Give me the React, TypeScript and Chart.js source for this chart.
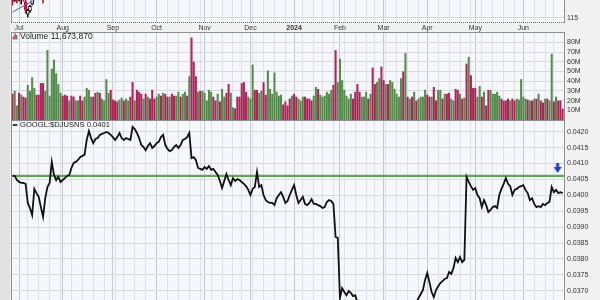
import React, { useEffect, useRef } from 'react';
import { Chart, registerables } from 'chart.js';

Chart.register(...registerables);

// ---------------- data ----------------
const MONTH_LABELS = ['Jul', 'Aug', 'Sep', 'Oct', 'Nov', 'Dec', '2024', 'Feb', 'Mar', 'Apr', 'May', 'Jun'];
// trading-day index (0 = 28 Jun 2023) of the first session of each month
const MONTH_START_IDX = [3, 23, 46, 66, 88, 109, 129, 150, 170, 190, 212, 234];
// trading-day index of the first session of each week
const WEEK_START_IDX = [3, 7, 12, 17, 22, 27, 32, 37, 42, 47, 51, 56, 61, 66, 71, 76, 81, 86, 91, 96, 101, 105,
  110, 115, 120, 125, 129, 133, 138, 142, 147, 152, 157, 162, 166, 171, 176, 181, 186, 190, 195, 200, 205, 210,
  215, 220, 225, 230, 234, 239, 244, 248];

// daily volume, millions of shares
const VOLUME_M = [
  27, 30, 15, 28, 26, 24, 23, 36, 30, 44,
  33, 26, 26, 38, 38, 30, 72, 25, 53, 62,
  48, 37, 28, 25, 26, 25, 20, 25, 24, 20,
  20, 25, 20, 24, 33, 31, 24, 24, 28, 29,
  28, 22, 20, 42, 28, 31, 21, 20, 19, 21,
  23, 20, 22, 20, 24, 39, 20, 31, 29, 27,
  22, 27, 24, 22, 31, 22, 24, 27, 25, 28,
  27, 24, 24, 27, 25, 25, 29, 24, 27, 29,
  25, 45, 85, 60, 45, 29, 30, 30, 28, 20,
  31, 29, 24, 20, 27, 19, 32, 24, 28, 37,
  28, 13, 12, 24, 24, 38, 39, 29, 24, 22,
  57, 31, 31, 28, 30, 39, 26, 51, 32, 27,
  49, 29, 25, 26, 16, 19, 15, 22, 25, 27,
  24, 22, 20, 24, 24, 22, 22, 20, 25, 34,
  32, 26, 24, 25, 29, 27, 31, 36, 72, 39,
  63, 41, 31, 25, 22, 27, 22, 29, 37, 29,
  24, 24, 29, 22, 27, 54, 37, 39, 43, 55,
  41, 37, 37, 41, 39, 32, 27, 24, 43, 50,
  69, 24, 22, 24, 29, 20, 22, 24, 24, 31,
  26, 24, 24, 34, 20, 31, 31, 22, 27, 27,
  28, 22, 20, 32, 31, 27, 22, 23, 58, 65,
  46, 33, 33, 24, 35, 24, 29, 15, 31, 31,
  27, 27, 29, 25, 22, 20, 20, 22, 20, 22,
  20, 22, 21, 42, 24, 22, 21, 20, 20, 22,
  22, 27, 20, 18, 22, 22, 20, 68, 19, 24,
  20, 20, 11.67,
];
// 1 = up day (green), 0 = down day (red)
const VOLUME_UP = [
  0, 1, 1, 0, 1, 0, 0, 1, 1, 1,
  1, 0, 0, 0, 0, 1, 1, 1, 1, 1,
  1, 1, 1, 0, 0, 0, 1, 0, 0, 1,
  1, 0, 0, 1, 1, 1, 1, 0, 0, 1,
  0, 1, 1, 1, 1, 0, 0, 0, 0, 1,
  1, 0, 1, 1, 0, 0, 1, 0, 0, 0,
  1, 0, 1, 0, 0, 0, 1, 1, 0, 1,
  0, 0, 1, 0, 0, 1, 1, 0, 1, 1,
  0, 1, 0, 0, 0, 1, 0, 1, 1, 1,
  1, 1, 0, 0, 1, 0, 1, 1, 0, 0,
  1, 1, 0, 0, 0, 0, 0, 0, 1, 1,
  1, 0, 0, 1, 1, 0, 0, 1, 1, 1,
  1, 1, 1, 1, 0, 0, 0, 0, 1, 0,
  0, 1, 1, 1, 0, 0, 0, 0, 1, 1,
  0, 1, 1, 1, 1, 1, 1, 0, 0, 1,
  1, 1, 1, 1, 1, 1, 0, 0, 0, 0,
  1, 1, 1, 0, 1, 0, 0, 1, 1, 0,
  0, 1, 0, 1, 1, 1, 1, 1, 1, 0,
  1, 0, 1, 0, 1, 0, 1, 1, 1, 1,
  0, 0, 1, 0, 0, 1, 1, 0, 1, 0,
  0, 1, 1, 0, 0, 1, 0, 1, 0, 1,
  0, 0, 0, 1, 1, 0, 1, 0, 0, 1,
  1, 1, 1, 1, 0, 0, 0, 0, 1, 0,
  0, 1, 1, 1, 1, 1, 0, 1, 0, 1,
  0, 1, 0, 0, 1, 0, 1, 1, 0, 1,
  0, 0, 0,
];

// GOOGL:$DJUSNS ratio, daily close
const RATIO = [
  0.04061, 0.04061, 0.04048, 0.04042, 0.04039, 0.04039, 0.04036, 0.03976, 0.03960, 0.03938,
  0.04020, 0.04007, 0.03995, 0.03963, 0.03932, 0.03991, 0.04026, 0.04039, 0.04105, 0.04064,
  0.04048, 0.04058, 0.04042, 0.04048, 0.04054, 0.04061, 0.04064, 0.04086, 0.04102, 0.04105,
  0.04111, 0.04120, 0.04124, 0.04127, 0.04174, 0.04202, 0.04180, 0.04164, 0.04177, 0.04180,
  0.04190, 0.04193, 0.04196, 0.04199, 0.04196, 0.04190, 0.04183, 0.04174, 0.04183, 0.04196,
  0.04180, 0.04174, 0.04180, 0.04177, 0.04174, 0.04215, 0.04208, 0.04196, 0.04180, 0.04158,
  0.04152, 0.04142, 0.04155, 0.04164, 0.04149, 0.04155, 0.04164, 0.04168, 0.04183, 0.04190,
  0.04158, 0.04146, 0.04139, 0.04142, 0.04152, 0.04158, 0.04149, 0.04158, 0.04174, 0.04177,
  0.04183, 0.04196, 0.04117, 0.04120, 0.04111, 0.04086, 0.04083, 0.04080, 0.04089, 0.04083,
  0.04092, 0.04080, 0.04083, 0.04073, 0.04064, 0.04045, 0.04023, 0.04045, 0.04067, 0.04048,
  0.04032, 0.04054, 0.04045, 0.04051, 0.04048, 0.04042, 0.04036, 0.04029, 0.04017, 0.04001,
  0.04020, 0.04026, 0.04073, 0.04026, 0.04032, 0.04001, 0.03985, 0.03979, 0.03976, 0.03976,
  0.03969, 0.03991, 0.04001, 0.04010, 0.03995, 0.03976, 0.03982, 0.04001, 0.04017, 0.04032,
  0.04001, 0.03976, 0.03985, 0.03995, 0.03973, 0.03969, 0.03976, 0.03988, 0.03973, 0.03973,
  0.03969, 0.03966, 0.03960, 0.03963, 0.03979, 0.03985, 0.03982, 0.03973, 0.03869, 0.03866,
  0.03677, 0.03708, 0.03696, 0.03686, 0.03699, 0.03693, 0.03683, 0.03686, 0.03664, 0.03650,
  0.03641, 0.03632, 0.03645, 0.03628, 0.03615, 0.03622, 0.03610, 0.03598, 0.03605, 0.03590,
  0.03583, 0.03596, 0.03602, 0.03588, 0.03575, 0.03580, 0.03594, 0.03607, 0.03599, 0.03612,
  0.03620, 0.03633, 0.03628, 0.03641, 0.03652, 0.03664, 0.03677, 0.03689, 0.03702, 0.03734,
  0.03756, 0.03727, 0.03696, 0.03680, 0.03702, 0.03714, 0.03724, 0.03730, 0.03737, 0.03740,
  0.03759, 0.03753, 0.03771, 0.03803, 0.03790, 0.03806, 0.03790, 0.03797, 0.04058, 0.04042,
  0.04029, 0.04017, 0.04023, 0.04001, 0.03991, 0.03963, 0.03985, 0.03969, 0.03947, 0.03954,
  0.03963, 0.03966, 0.03960, 0.04001, 0.04020, 0.04036, 0.04054, 0.04036, 0.04029, 0.04001,
  0.04017, 0.04020, 0.04026, 0.04029, 0.04032, 0.04017, 0.04007, 0.03985, 0.03991, 0.03973,
  0.03963, 0.03966, 0.03963, 0.03973, 0.03969, 0.03976, 0.03979, 0.04026, 0.04010, 0.04017,
  0.04007, 0.04010, 0.04007,
];
const RESISTANCE_LEVEL = 0.04061;
const ARROW_IDX = 249.7;
const ARROW_VALUE = 0.04086;

// visible tail of the price panel (first sessions only)
const CANDLE_IDX = [0, 1, 2, 3, 4, 5, 6, 7, 8, 9, 14];
const CANDLE_OPEN = [120.6, 119.9, 120.8, 120.2, 120.5, 121.0, 119.6, 116.1, 117.0, 119.0, 121.5];
const CANDLE_HIGH = [121.2, 121.0, 121.3, 121.5, 121.7, 121.5, 120.3, 117.5, 118.6, 120.8, 122.0];
const CANDLE_LOW = [118.7, 119.7, 119.3, 119.9, 119.0, 119.8, 116.4, 115.3, 116.6, 118.7, 119.3];
const CANDLE_CLOSE = [119.9, 120.8, 120.0, 121.2, 121.4, 120.3, 117.3, 117.2, 118.3, 120.5, 120.3];
const PRICE_LINE_IDX = [0, 12];
const PRICE_LINE = [116.7, 120.8];

const PRICE_TICKS = [115];
const VOLUME_TICKS_M = [10, 20, 30, 40, 50, 60, 70, 80];
const RATIO_TICKS = [0.0365, 0.037, 0.0375, 0.038, 0.0385, 0.039, 0.0395, 0.04, 0.0405, 0.041, 0.0415, 0.042];

const VOLUME_TITLE = 'Volume 11,673,870';
const RATIO_TITLE = 'GOOGL:$DJUSNS 0.0401';

// ---------------- style ----------------
const W = 600;
const PLOT_LEFT = 11;
const AXIS_W = 35;
const X_MIN = -0.69;
const X_MAX = 253.1;
const FONT = "'Liberation Sans', Arial, sans-serif";
const PAGE_BG = '#f1f1f1';
const PLOT_BG = '#f6f7fb';
const FRAME = '#8f8f8f';
const MONTH_GRID = '#c6c8d0';
const WEEK_GRID = '#e0e1e8';
const H_GRID = '#d9dae1';
const UP_COLOR = '#558c4d';
const DOWN_COLOR = '#b0235a';
const LEVEL_COLOR = '#62a556';
const ARROW_COLOR = '#1a3ad6';

const X_TICKS = Array.from(new Set([...WEEK_START_IDX, ...MONTH_START_IDX])).sort((a, b) => a - b);
const monthLabel = (v: number) => {
  const k = MONTH_START_IDX.indexOf(v);
  return k >= 0 ? MONTH_LABELS[k] : '';
};

function xScale(showLabels: boolean, position: 'top' | 'bottom', height: number) {
  return {
    type: 'linear',
    position,
    min: X_MIN,
    max: X_MAX,
    bounds: 'data',
    offset: false,
    afterBuildTicks: (s: any) => {
      s.ticks = X_TICKS.map((v) => ({ value: v }));
    },
    afterFit: (s: any) => {
      s.height = height;
      s.paddingLeft = 0;
      s.paddingRight = 0;
    },
    grid: {
      drawTicks: false,
      offset: false,
      lineWidth: 1,
      color: (c: any) => (c.tick && MONTH_START_IDX.includes(c.tick.value) ? MONTH_GRID : WEEK_GRID),
    },
    border: { display: false },
    ticks: {
      display: showLabels,
      autoSkip: false,
      maxRotation: 0,
      minRotation: 0,
      padding: 0,
      color: '#333',
      font: (c: any) => ({
        family: FONT,
        size: 7,
        weight: c.tick && monthLabel(c.tick.value) === '2024' ? 'bold' : 'normal',
      }),
      callback: (v: any) => monthLabel(Number(v)),
    },
  };
}

function yScale(min: number, max: number, ticks: number[], fmt: (v: number) => string) {
  return {
    type: 'linear',
    position: 'right',
    min,
    max,
    bounds: 'data',
    afterBuildTicks: (s: any) => {
      s.ticks = ticks.map((v) => ({ value: v }));
    },
    afterFit: (s: any) => {
      s.width = AXIS_W;
      s.paddingTop = 0;
      s.paddingBottom = 0;
    },
    grid: { drawTicks: false, color: H_GRID, lineWidth: 1 },
    border: { display: false },
    ticks: {
      padding: 2,
      color: '#333',
      font: { family: FONT, size: 7 },
      callback: (v: any) => fmt(Number(v)),
    },
  };
}

const framePlugin = {
  id: 'panelFrame',
  beforeDraw(chart: any) {
    const { ctx, chartArea: a } = chart;
    ctx.save();
    ctx.fillStyle = PLOT_BG;
    ctx.fillRect(a.left, a.top, a.right - a.left, a.bottom - a.top);
    ctx.restore();
  },
  afterDatasetsDraw(chart: any, _args: any, opts: any) {
    const { ctx, chartArea: a } = chart;
    ctx.save();
    ctx.strokeStyle = FRAME;
    ctx.lineWidth = 1;
    ctx.beginPath();
    ctx.moveTo(a.left + 0.5, a.top);
    ctx.lineTo(a.left + 0.5, a.bottom);
    ctx.moveTo(a.right - 0.5, a.top);
    ctx.lineTo(a.right - 0.5, a.bottom);
    if (opts.top) {
      ctx.moveTo(a.left, a.top + 0.5);
      ctx.lineTo(a.right, a.top + 0.5);
    }
    ctx.stroke();
    if (opts.dottedBottom) {
      ctx.strokeStyle = '#6a6a6a';
      ctx.setLineDash([1, 1]);
      ctx.beginPath();
      ctx.moveTo(a.left, a.bottom - 0.5);
      ctx.lineTo(a.right, a.bottom - 0.5);
      ctx.stroke();
    }
    ctx.restore();
  },
};

const titlePlugin = {
  id: 'panelTitle',
  afterDraw(chart: any, _args: any, opts: any) {
    if (!opts || !opts.text) return;
    const { ctx, chartArea: a } = chart;
    const x0 = a.left;
    const cy = a.top + opts.dy;
    ctx.save();
    if (opts.icon === 'bars') {
      const base = cy + 3;
      ctx.fillStyle = UP_COLOR;
      ctx.fillRect(x0 + 1.6, base - 3, 1.4, 3);
      ctx.fillStyle = DOWN_COLOR;
      ctx.fillRect(x0 + 3.3, base - 6, 1.4, 6);
      ctx.fillStyle = UP_COLOR;
      ctx.fillRect(x0 + 5, base - 4.5, 1.4, 4.5);
    } else if (opts.icon === 'dash') {
      ctx.fillStyle = '#111';
      ctx.fillRect(x0 + 1.7, cy - 0.8, 4.6, 1.6);
    }
    ctx.font = `${opts.size}px ${FONT}`;
    ctx.fillStyle = '#1e1e1e';
    ctx.textBaseline = 'middle';
    ctx.textAlign = 'left';
    ctx.fillText(opts.text, x0 + 9, cy);
    ctx.restore();
  },
};

function makeArrow(): HTMLCanvasElement {
  const c = document.createElement('canvas');
  c.width = 8;
  c.height = 10;
  const g = c.getContext('2d')!;
  g.fillStyle = ARROW_COLOR;
  g.fillRect(2.5, 0, 3, 4.5);
  g.beginPath();
  g.moveTo(0, 4);
  g.lineTo(8, 4);
  g.lineTo(4, 10);
  g.closePath();
  g.fill();
  return c;
}

const baseOptions = {
  responsive: false,
  animation: false,
  events: [],
  layout: { autoPadding: false, padding: { left: PLOT_LEFT, right: 0, top: 0, bottom: 0 } },
};

function priceConfig() {
  const up = CANDLE_CLOSE.map((c, k) => c >= CANDLE_OPEN[k]);
  return {
    type: 'bar',
    data: {
      datasets: [
        {
          type: 'line',
          data: PRICE_LINE_IDX.map((x, k) => ({ x, y: PRICE_LINE[k] })),
          borderColor: '#4d64a6',
          borderWidth: 1,
          pointRadius: 0,
          order: 0,
        },
        {
          data: CANDLE_IDX.map((x, k) => ({ x, y: [CANDLE_LOW[k], CANDLE_HIGH[k]] })),
          backgroundColor: up.map((u) => (u ? '#111' : '#c0143c')),
          barThickness: 1,
          grouped: false,
          order: 2,
        },
        {
          data: CANDLE_IDX.map((x, k) => ({ x, y: [CANDLE_OPEN[k], CANDLE_CLOSE[k]] })),
          backgroundColor: up.map((u) => (u ? '#ffffff' : '#c0143c')),
          borderColor: up.map((u) => (u ? '#111' : '#c0143c')),
          borderWidth: 1,
          borderSkipped: false,
          barThickness: 3,
          grouped: false,
          order: 1,
        },
      ],
    },
    options: {
      ...baseOptions,
      plugins: { legend: { display: false }, tooltip: { enabled: false }, panelFrame: { top: false, dottedBottom: true }, panelTitle: {} },
      scales: {
        x: xScale(false, 'bottom', 0),
        y: yScale(113.57, 120.14, PRICE_TICKS, (v) => String(v)),
      },
    },
    plugins: [framePlugin, titlePlugin],
  };
}

function volumeConfig() {
  return {
    type: 'bar',
    data: {
      datasets: [
        {
          data: VOLUME_M.map((v, i) => ({ x: i, y: v })),
          backgroundColor: VOLUME_UP.map((u) => (u ? UP_COLOR : DOWN_COLOR)),
          borderWidth: 0,
          barPercentage: 0.95,
          categoryPercentage: 1,
        },
      ],
    },
    options: {
      ...baseOptions,
      plugins: {
        legend: { display: false },
        tooltip: { enabled: false },
        panelFrame: { top: true },
        panelTitle: { text: VOLUME_TITLE, icon: 'bars', dy: 4.5, size: 8.5 },
      },
      scales: {
        x: xScale(true, 'top', 9),
        y: yScale(0, 90.6, VOLUME_TICKS_M, (v) => `${v}M`),
      },
    },
    plugins: [framePlugin, titlePlugin],
  };
}

function ratioConfig() {
  return {
    type: 'line',
    data: {
      datasets: [
        {
          data: [
            { x: X_MIN, y: RESISTANCE_LEVEL },
            { x: X_MAX, y: RESISTANCE_LEVEL },
          ],
          borderColor: LEVEL_COLOR,
          borderWidth: 2.2,
          pointRadius: 0,
          order: 3,
        },
        {
          data: RATIO.map((v, i) => ({ x: i, y: v })),
          borderColor: '#111',
          borderWidth: 1.8,
          pointRadius: 0,
          tension: 0,
          order: 2,
        },
        {
          data: [{ x: ARROW_IDX, y: ARROW_VALUE }],
          showLine: false,
          pointStyle: makeArrow(),
          pointRadius: 5,
          order: 1,
        },
      ],
    },
    options: {
      ...baseOptions,
      plugins: {
        legend: { display: false },
        tooltip: { enabled: false },
        panelFrame: { top: true },
        panelTitle: { text: RATIO_TITLE, icon: 'dash', dy: 5, size: 7.6 },
      },
      scales: {
        x: xScale(false, 'bottom', 0),
        y: yScale(0.036079, 0.042368, RATIO_TICKS, (v) => v.toFixed(4)),
      },
    },
    plugins: [framePlugin, titlePlugin],
  };
}

function Panel({ top, height, build }: { top: number; height: number; build: () => any }) {
  const ref = useRef<HTMLCanvasElement>(null);
  useEffect(() => {
    const chart = new Chart(ref.current as HTMLCanvasElement, build());
    return () => chart.destroy();
  }, []);
  return (
    <div style={{ position: 'absolute', left: 0, top, width: W, height }}>
      <canvas ref={ref} width={W} height={height} style={{ width: W, height, display: 'block' }} />
    </div>
  );
}

export default function App() {
  useEffect(() => {
    document.body.style.margin = '0';
  }, []);
  return (
    <div style={{ position: 'relative', width: 600, height: 300, overflow: 'hidden', background: PAGE_BG }}>
      <div style={{ position: 'absolute', left: 0, top: 0, width: 10, height: 300, background: '#e2e2e2' }} />
      <Panel top={0} height={23} build={priceConfig} />
      <Panel top={23} height={97} build={volumeConfig} />
      <Panel top={120} height={200} build={ratioConfig} />
    </div>
  );
}
